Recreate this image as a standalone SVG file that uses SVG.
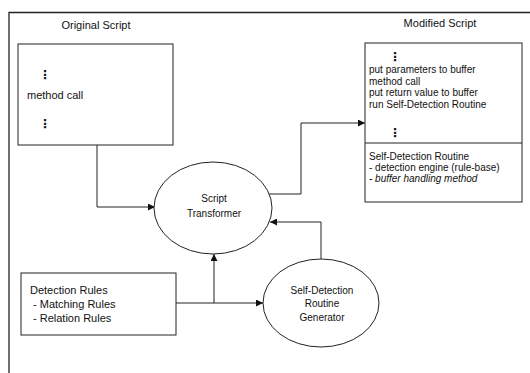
<svg xmlns="http://www.w3.org/2000/svg" width="530" height="373" viewBox="0 0 530 373">
<style>
text{font-family:"Liberation Sans",Arial,sans-serif;fill:#111}
.t11{font-size:11px}
.t10{font-size:10px}
.c{text-anchor:middle}
.dots{font-family:"DejaVu Sans",sans-serif;font-size:12px;font-weight:bold}
.box{fill:#fff;stroke:#222;stroke-width:1}
.ell{fill:#fff;stroke:#222;stroke-width:1}
.con{fill:none;stroke:#222;stroke-width:1}
.frame{fill:none;stroke:#222;stroke-width:1.3}
</style>
<defs>
<marker id="arr" viewBox="0 0 10 10" refX="10" refY="5" markerWidth="8" markerHeight="7" markerUnits="userSpaceOnUse" orient="auto">
<path d="M0,0 L10,5 L0,10 Z" fill="#111"/>
</marker>
</defs>
<rect width="530" height="373" fill="#fff"/>
<path class="frame" d="M9,373 V12.5 H530"/>
<text class="t11 c" x="96" y="29">Original Script</text>
<text class="t11 c" x="440" y="27">Modified Script</text>

<g id="connectors">
<path class="con" d="M97,145 V207 H155" marker-end="url(#arr)"/>
<path class="con" d="M269,194 H301 V123 H365" marker-end="url(#arr)"/>
<path class="con" d="M176,303 H263" marker-end="url(#arr)"/>
<path class="con" d="M214,303 V254" marker-end="url(#arr)"/>
<path class="con" d="M321,259 V222 H270" marker-end="url(#arr)"/>
</g>

<g id="original-script">
<rect class="box" x="18" y="44" width="155" height="101"/>
<text class="dots" x="39" y="79">⋮</text>
<text class="t11" x="27" y="99">method call</text>
<text class="dots" x="39" y="128">⋮</text>
</g>

<g id="modified-script">
<rect class="box" x="365" y="43" width="157" height="159"/>
<line class="con" x1="365" y1="143" x2="522" y2="143"/>
<text class="dots" x="389" y="61">⋮</text>
<text class="t10" x="369" y="73">put parameters to buffer</text>
<text class="t10" x="369" y="84.5">method call</text>
<text class="t10" x="369" y="96">put return value to buffer</text>
<text class="t10" x="369" y="107.5">run Self-Detection Routine</text>
<text class="dots" x="389" y="137">⋮</text>
<text class="t10" x="369" y="160">Self-Detection Routine</text>
<text class="t10" x="369" y="171">- detection engine (rule-base)</text>
<text class="t10" x="369" y="182" font-style="italic">- buffer handling method</text>
</g>

<g id="script-transformer">
<ellipse class="ell" cx="213" cy="208" rx="59" ry="46"/>
<text class="t10 c" x="214" y="202">Script</text>
<text class="t10 c" x="214" y="217">Transformer</text>
</g>

<g id="detection-rules">
<rect class="box" x="21" y="273" width="155" height="62"/>
<text class="t11" x="30" y="294">Detection Rules</text>
<text class="t11" x="33" y="308">- Matching Rules</text>
<text class="t11" x="33" y="322">- Relation Rules</text>
</g>

<g id="routine-generator">
<ellipse class="ell" cx="321" cy="303" rx="58" ry="44"/>
<text class="t10 c" x="322" y="294">Self-Detection</text>
<text class="t10 c" x="322" y="307">Routine</text>
<text class="t10 c" x="322" y="321">Generator</text>
</g>
</svg>
